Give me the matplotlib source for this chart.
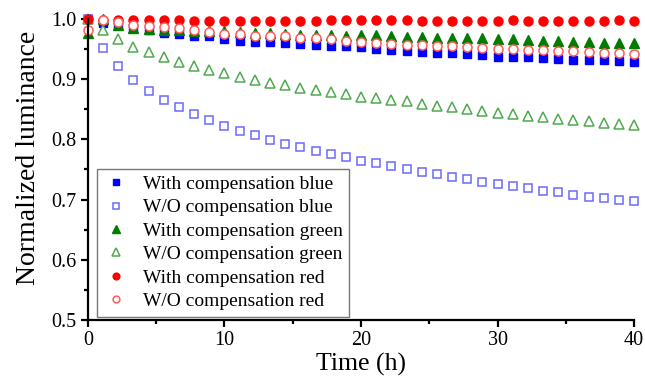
import matplotlib.pyplot as plt
import numpy as np
from matplotlib.ticker import MultipleLocator

plt.rcParams['font.family'] = ['Liberation Serif', 'DejaVu Serif']

time_h = np.linspace(0, 40, 37)

blue_with = [1.000, 0.994, 0.990, 0.985, 0.981, 0.977, 0.975, 0.972, 0.971, 0.966,
             0.964, 0.962, 0.961, 0.960, 0.958, 0.957, 0.955, 0.955, 0.953, 0.950,
             0.949, 0.947, 0.945, 0.943, 0.943, 0.942, 0.940, 0.937, 0.936, 0.936,
             0.935, 0.934, 0.932, 0.932, 0.931, 0.930, 0.929]
blue_wo = [1.000, 0.952, 0.922, 0.898, 0.880, 0.866, 0.853, 0.842, 0.832, 0.822,
           0.814, 0.807, 0.799, 0.792, 0.787, 0.781, 0.776, 0.771, 0.764, 0.760,
           0.756, 0.751, 0.746, 0.743, 0.738, 0.734, 0.730, 0.726, 0.723, 0.719,
           0.715, 0.712, 0.708, 0.705, 0.702, 0.700, 0.697]
green_with = [0.977, 1.000, 0.990, 0.985, 0.983, 0.982, 0.981, 0.980, 0.980, 0.980,
              0.979, 0.977, 0.976, 0.975, 0.974, 0.973, 0.973, 0.971, 0.973, 0.973,
              0.971, 0.970, 0.970, 0.969, 0.969, 0.969, 0.968, 0.966, 0.966, 0.965,
              0.963, 0.963, 0.961, 0.961, 0.960, 0.960, 0.960]
green_wo = [1.000, 0.981, 0.967, 0.954, 0.945, 0.936, 0.929, 0.922, 0.915, 0.910,
            0.904, 0.899, 0.894, 0.890, 0.886, 0.882, 0.879, 0.875, 0.871, 0.869,
            0.865, 0.863, 0.859, 0.856, 0.853, 0.850, 0.847, 0.844, 0.842, 0.839,
            0.837, 0.834, 0.832, 0.830, 0.827, 0.825, 0.824]
red_with = [1.000, 0.999, 0.998, 0.998, 0.998, 0.998, 0.999, 0.997, 0.997, 0.997,
            0.997, 0.997, 0.997, 0.997, 0.997, 0.997, 0.999, 0.999, 0.998, 0.998,
            0.998, 0.999, 0.997, 0.997, 0.996, 0.997, 0.997, 0.997, 0.998, 0.997,
            0.997, 0.997, 0.996, 0.997, 0.997, 0.998, 0.997]
red_wo = [0.982, 0.998, 0.995, 0.990, 0.988, 0.986, 0.985, 0.982, 0.979, 0.975,
          0.975, 0.972, 0.971, 0.971, 0.969, 0.968, 0.966, 0.963, 0.962, 0.960,
          0.958, 0.957, 0.956, 0.955, 0.955, 0.953, 0.952, 0.950, 0.950, 0.949,
          0.949, 0.947, 0.946, 0.945, 0.943, 0.943, 0.941]

fig = plt.figure(figsize=(6.45, 3.79), dpi=100)
ax = fig.add_axes([0.1364, 0.1557, 0.8466, 0.7943])

ax.plot(time_h, blue_with, 's', ms=6, color='#0000ff', mec='#0000ff',
        label='With compensation blue', clip_on=False)
ax.plot(time_h, blue_wo, 's', ms=6, mfc='white', mec='#6a6aff', mew=1.1,
        label='W/O compensation blue', clip_on=False)
ax.plot(time_h, green_with, '^', ms=7, color='#007d00', mec='#007d00',
        label='With compensation green', clip_on=False)
ax.plot(time_h, green_wo, '^', ms=7, mfc='white', mec='#4fa94f', mew=1.1,
        label='W/O compensation green', clip_on=False)
ax.plot(time_h, red_with, 'o', ms=6.5, color='#ff0000', mec='#ff0000',
        label='With compensation red', clip_on=False)
ax.plot(time_h, red_wo, 'o', ms=6.5, mfc='white', mec='#ff5a5a', mew=1.1,
        label='W/O compensation red', clip_on=False)

ax.set_xlim(0, 40)
ax.set_ylim(0.5, 1.0)
ax.xaxis.set_major_locator(MultipleLocator(10))
ax.xaxis.set_minor_locator(MultipleLocator(5))
ax.yaxis.set_major_locator(MultipleLocator(0.1))
ax.yaxis.set_minor_locator(MultipleLocator(0.05))
ax.yaxis.set_major_formatter(plt.FormatStrFormatter('%.1f'))

for side in ['top', 'right']:
    ax.spines[side].set_visible(False)
for side in ['left', 'bottom']:
    ax.spines[side].set_linewidth(1.6)
ax.tick_params(which='major', direction='out', length=5, width=1.6,
               labelsize=14.5, pad=3)
ax.tick_params(which='minor', direction='out', length=3, width=1.6)

ax.set_xlabel('Time (h)', fontsize=18.5, labelpad=2)
ax.set_ylabel('Normalized luminance', fontsize=20)
ax.yaxis.set_label_coords(-0.086, 0.54)

leg = ax.legend(loc='lower left', fontsize=14, frameon=True, fancybox=False,
                edgecolor='#555555', handletextpad=0.7, borderpad=0.35,
                labelspacing=0.3, handlelength=1.3, markerscale=0.75,
                borderaxespad=0, bbox_to_anchor=(0.0165, 0.01))
leg.get_frame().set_linewidth(1.0)

fig.savefig('out.png', dpi=100)
